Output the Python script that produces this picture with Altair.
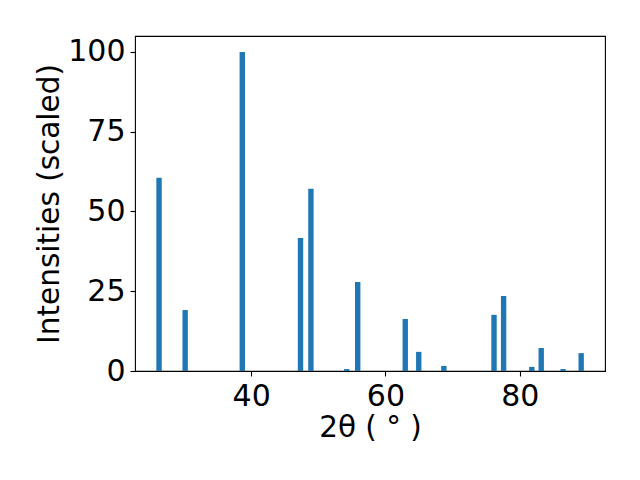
import altair as alt
import pandas as pd

two_theta = [26.28, 30.17, 38.68, 47.35, 48.9, 54.23, 55.87, 62.95, 64.96, 68.7,
             76.17, 77.6, 81.8, 83.2, 86.46, 89.15]
intensity = [60.6, 19.1, 100, 41.7, 57.1, 0.6, 27.9, 16.3, 6.0, 1.6,
             17.6, 23.5, 1.3, 7.2, 0.6, 5.6]
bar_width = 0.8

df = pd.DataFrame({"pos": two_theta, "inten": intensity})

chart = alt.Chart(df).transform_calculate(
    x0=f"datum.pos - {bar_width/2}", x1=f"datum.pos + {bar_width/2}"
).mark_rect(color="#1f77b4").encode(
    x=alt.X("x0:Q", scale=alt.Scale(domain=[22.7, 92.7], nice=False, zero=False),
            axis=alt.Axis(values=[40, 60, 80], title="2θ ( ° )",
                          titleY=65, titleBaseline="alphabetic")),
    x2="x1:Q",
    y=alt.Y("inten:Q", scale=alt.Scale(domain=[0, 105], nice=False),
            axis=alt.Axis(values=[0, 25, 50, 75, 100], title="Intensities (scaled)",
                          titleX=-77, titleBaseline="alphabetic")),
    y2=alt.datum(0),
).properties(
    width=470, height=335,
    autosize=alt.AutoSizeParams(type="none"),
    padding={"left": 127, "top": 28, "right": 20, "bottom": 90},
).configure_view(
    stroke="black", strokeWidth=1.1
).configure_axis(
    grid=False, domain=False, tickColor="black", tickWidth=1.1, tickSize=5,
    labelPadding=5, labelFont="DejaVu Sans", labelFontSize=30, labelColor="black",
    titleFont="DejaVu Sans", titleFontSize=29.5, titleColor="black", titleFontWeight="normal",
)

chart.save("out.html", embed_options={"renderer": "svg", "actions": False})
